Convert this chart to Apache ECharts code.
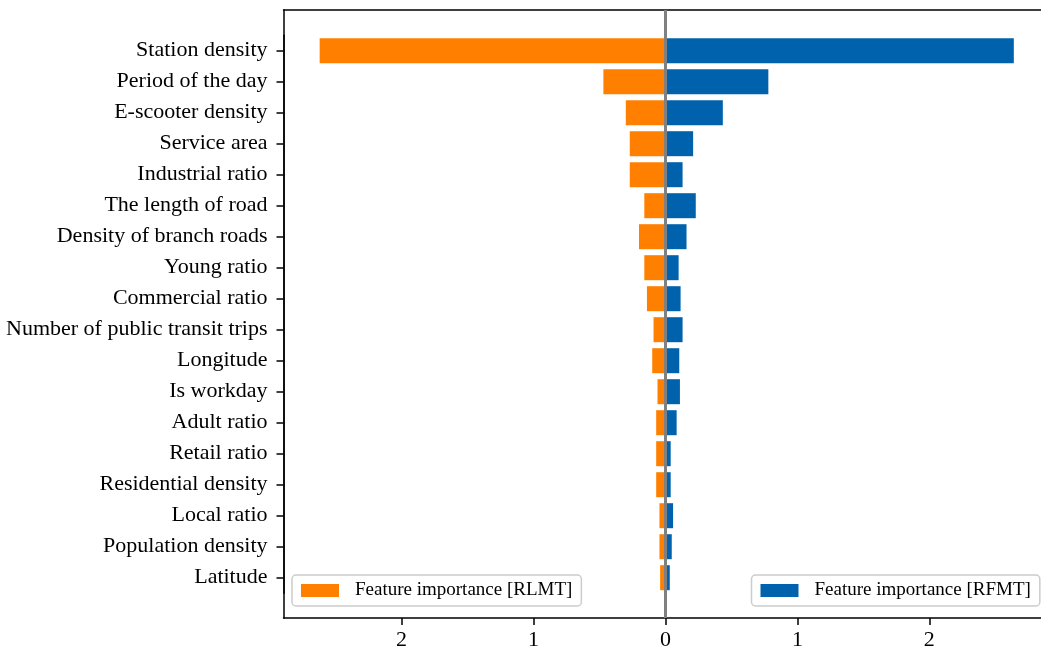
<!DOCTYPE html>
<html>
<head>
<meta charset="utf-8">
<script src="https://cdn.jsdelivr.net/npm/echarts@6/dist/echarts.min.js"></script>
<style>
html,body{margin:0;padding:0;background:#fff;}
#chart{width:1041px;height:653px;}
</style>
</head>
<body>
<div id="chart"></div>
<script>
const categories = [
  "Station density","Period of the day","E-scooter density","Service area",
  "Industrial ratio","The length of road","Density of branch roads","Young ratio",
  "Commercial ratio","Number of public transit trips","Longitude","Is workday",
  "Adult ratio","Retail ratio","Residential density","Local ratio",
  "Population density","Latitude"
];
// Feature importance values (absolute), RLMT drawn to the left, RFMT to the right
const rlmtValues = [2.62,0.47,0.30,0.27,0.27,0.16,0.20,0.16,0.14,0.09,0.10,0.06,0.07,0.07,0.07,0.045,0.045,0.04];
const rfmtValues = [2.64,0.78,0.435,0.21,0.13,0.23,0.16,0.10,0.115,0.13,0.105,0.11,0.085,0.04,0.04,0.058,0.048,0.033];
const xTicks = [-2,-1,0,1,2];
const xMin = -2.894, xMax = 2.846;
const seriesNames = ["Feature importance [RLMT]","Feature importance [RFMT]"];

const FONT = "'Liberation Serif', 'DejaVu Serif', serif";
const chart = echarts.init(document.getElementById('chart'), null, {renderer:'canvas'});

const legendCommon = {
  icon: 'rect', itemWidth: 38, itemHeight: 13, top: 575,
  padding: [6, 9, 6, 9], borderColor: '#cccccc', borderWidth: 1.5, borderRadius: 4,
  backgroundColor: 'rgba(255,255,255,0.85)',
  textStyle: {fontFamily: FONT, fontSize: 19, color: '#000', padding: [0, 0, 0, 11]}
};

const option = {
  animation: false,
  backgroundColor: '#fff',
  grid: [
    {left: 283.5, top: 35.2, width: 757.5, height: 558, show: false, containLabel: false},
    {left: 283.5, top: 10, width: 757.5, height: 608, show: false, containLabel: false}
  ],
  xAxis: [
    {gridIndex: 0, type: 'value', min: xMin, max: xMax, show: false},
    {gridIndex: 1, type: 'value', min: xMin, max: xMax, position: 'bottom',
      axisLine: {show: true, onZero: false, lineStyle: {color: '#000', width: 1.5}},
      axisTick: {show: true, length: 7, lineStyle: {color: '#000', width: 1.5}, customValues: xTicks},
      axisLabel: {show: true, customValues: xTicks, margin: 11, color: '#000', fontFamily: FONT, fontSize: 22,
        formatter: v => String(Math.abs(v))},
      splitLine: {show: false}
    },
    {gridIndex: 1, type: 'value', min: xMin, max: xMax, position: 'top',
      axisLine: {show: true, onZero: false, lineStyle: {color: '#000', width: 1.5}},
      axisTick: {show: false}, axisLabel: {show: false}, splitLine: {show: false}
    }
  ],
  yAxis: [
    {gridIndex: 0, type: 'category', data: categories, inverse: true,
      axisLine: {show: true, onZero: false, lineStyle: {color: '#000', width: 1.5}},
      axisTick: {show: true, alignWithLabel: true, length: 7, lineStyle: {color: '#000', width: 1.5}},
      axisLabel: {margin: 16, color: '#000', fontFamily: FONT, fontSize: 22},
      splitLine: {show: false}
    },
    {gridIndex: 1, type: 'value', min: 0, max: 1, position: 'left',
      axisLine: {show: true, onZero: false, lineStyle: {color: '#000', width: 1.5}},
      axisTick: {show: false}, axisLabel: {show: false}, splitLine: {show: false}
    }
  ],
  legend: [
    Object.assign({data: [seriesNames[0]], left: 292}, legendCommon),
    Object.assign({data: [seriesNames[1]], left: 751.5}, legendCommon)
  ],
  series: [
    {name: seriesNames[0], type: 'bar', xAxisIndex: 0, yAxisIndex: 0,
      data: rlmtValues.map(v => -v), barWidth: 25, barGap: '-100%',
      itemStyle: {color: '#ff7f00'}},
    {name: seriesNames[1], type: 'bar', xAxisIndex: 0, yAxisIndex: 0,
      data: rfmtValues, barWidth: 25, barGap: '-100%',
      itemStyle: {color: '#0062ad'}},
    {name: 'zero', type: 'line', xAxisIndex: 1, yAxisIndex: 1, data: [], z: 10,
      markLine: {silent: true, symbol: 'none', label: {show: false},
        lineStyle: {color: '#808080', width: 3, type: 'solid'},
        data: [{xAxis: 0}]}}
  ]
};
chart.setOption(option);
</script>
</body>
</html>
